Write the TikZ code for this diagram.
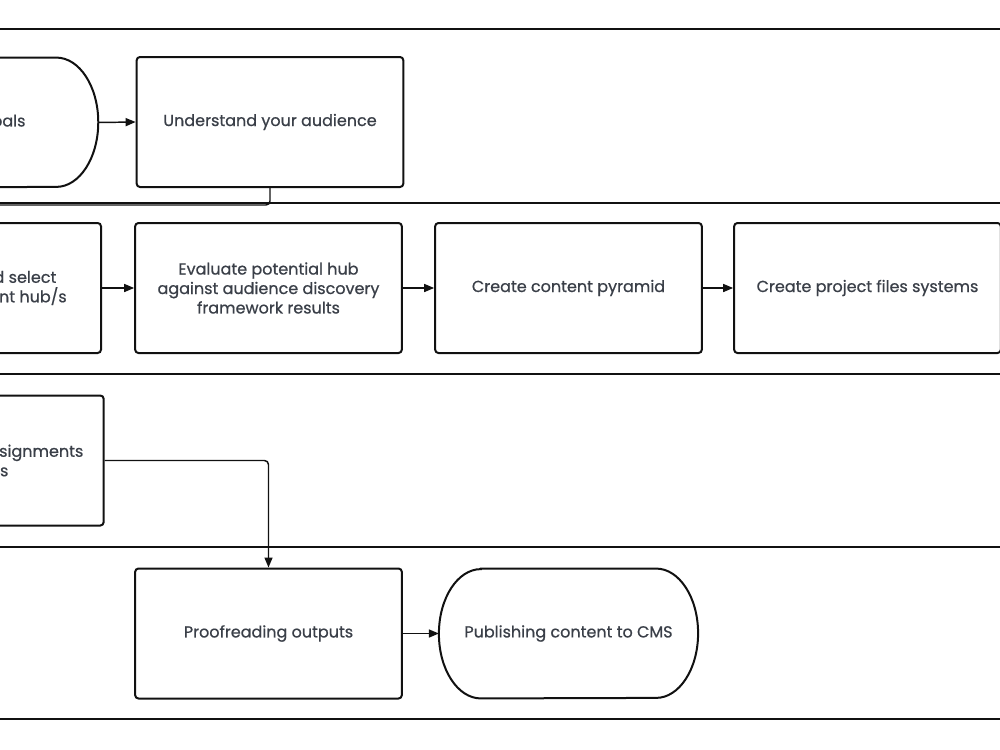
\documentclass[tikz,border=0pt]{standalone}
\usepackage{fontspec}
\setmainfont{Poppins}[UprightFeatures={FakeBold=0.7}]
\usetikzlibrary{arrows.meta,calc}
\definecolor{txt}{HTML}{3A3F48}
\definecolor{ln}{HTML}{111111}
\tikzset{
  box/.style={draw=ln,line width=1.5pt,rounded corners=2.5pt,minimum width=200pt,minimum height=97.5pt,align=center,text=txt,font=\fontsize{12}{14.6}\selectfont,inner sep=0pt},
  term/.style={draw=none,minimum width=194pt,minimum height=97pt,align=center,text=txt,font=\fontsize{12}{14.6}\selectfont,inner sep=0pt},
  termline/.style={draw=ln,line width=1.5pt},
  lane/.style={draw=ln,line width=1.9pt},
  conn/.style={draw=ln,line width=1.1pt,-{Triangle[length=7.5pt,width=6pt]}},
  plainconn/.style={draw=ln,line width=1.1pt},
}
\begin{document}
\begin{tikzpicture}[x=0.75pt,y=-0.75pt]
\useasboundingbox (0,0) rectangle (1000,750);
\clip (0,0) rectangle (1000,750);
\fill[white] (0,0) rectangle (1000,750);
% lanes
\draw[lane] (-10,29) -- (1010,29);
\draw[lane] (-10,203) -- (1010,203);
\draw[lane] (-10,374) -- (1010,374);
\draw[lane] (-10,547) -- (1010,547);
\draw[lane] (-10,719) -- (1010,719);
% lane 1
\node[term,minimum width=183pt] (goals) at (-24,122.5) {Define goals};
\draw[termline] ($(goals.north west)+(42,0)$) -- ($(goals.north east)+(-42,0)$) arc[start angle=90,end angle=-90,x radius=31.5pt,y radius=48.5pt] -- ($(goals.south west)+(42,0)$) arc[start angle=270,end angle=90,x radius=31.5pt,y radius=48.5pt] -- cycle;
\node[box] (und) at (270,122) {Understand your audience};
\draw[conn] (goals.east) -- (und.west);
\coordinate (out1) at (-10,205);
\draw[plainconn,rounded corners=3pt] (und.south) |- (out1);
% lane 2
\node[box,minimum width=189pt] (sel) at (-25,288) {Research and select\\relevant content hub/s};
\node[box] (eval) at (268.5,288) {Evaluate potential hub\\against audience discovery\\framework results};
\node[box] (pyr) at (568.5,288) {Create content pyramid};
\node[box] (proj) at (867.5,288) {Create project files systems};
\draw[conn] (sel.east) -- (eval.west);
\draw[conn] (eval.east) -- (pyr.west);
\draw[conn] (pyr.east) -- (proj.west);
% lane 3
\node[box,minimum width=202pt] (asg) at (-31,460.5) {Create content assignments\\for writers};
% lane 4
\node[box] (proof) at (268.5,633.5) {Proofreading outputs};
\node[term] (pub) at (568.5,633.5) {Publishing content to CMS};
\draw[termline] ($(pub.north west)+(42,0)$) -- ($(pub.north east)+(-42,0)$) arc[start angle=90,end angle=-90,x radius=31.5pt,y radius=48.5pt] -- ($(pub.south west)+(42,0)$) arc[start angle=270,end angle=90,x radius=31.5pt,y radius=48.5pt] -- cycle;
\draw[conn] (proof.east) -- (pub.west);
\draw[conn,rounded corners=3pt] (asg.east) -| (proof.north);
\end{tikzpicture}
\end{document}
